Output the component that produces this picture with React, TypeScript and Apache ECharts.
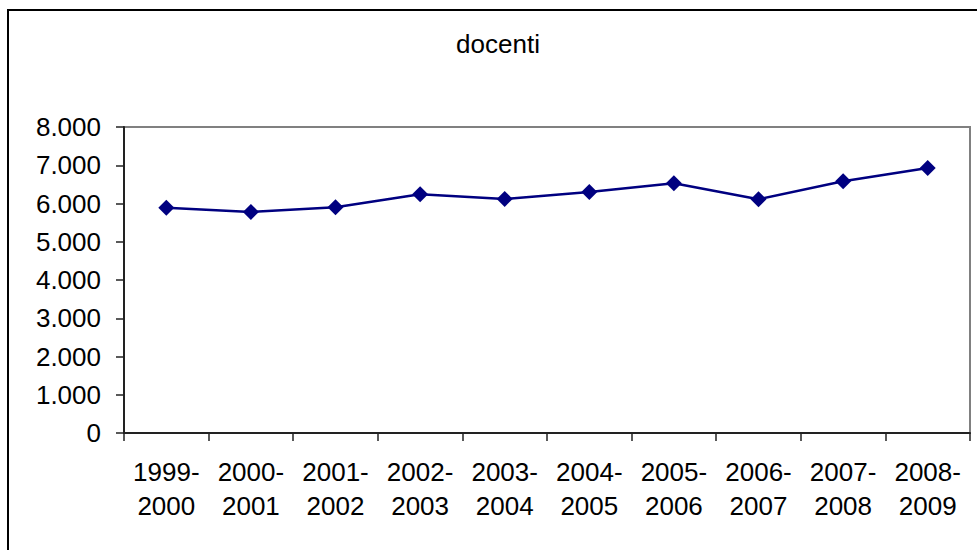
import React, { useEffect, useRef } from "react";
import * as echarts from "echarts";

const categories = [
  "1999-\n2000",
  "2000-\n2001",
  "2001-\n2002",
  "2002-\n2003",
  "2003-\n2004",
  "2004-\n2005",
  "2005-\n2006",
  "2006-\n2007",
  "2007-\n2008",
  "2008-\n2009",
];
const docenti = [5890, 5780, 5900, 6240, 6120, 6300, 6530, 6110, 6580, 6930];
const chartTitle = "docenti";

const FONT = "'Liberation Sans', Arial, sans-serif";

function fmt(v: number): string {
  const s = String(Math.round(v));
  return s.replace(/\B(?=(\d{3})+(?!\d))/g, ".");
}

export default function App() {
  const ref = useRef<HTMLDivElement>(null);
  useEffect(() => {
    if (!ref.current) return;
    const chart = echarts.init(ref.current, undefined, { renderer: "svg" });
    chart.setOption({
      animation: false,
      backgroundColor: "#ffffff",
      textStyle: { fontFamily: FONT },
      graphic: [
        {
          type: "rect",
          shape: { x: 8, y: 10, width: 1000, height: 600 },
          style: { fill: "none", stroke: "#000000", lineWidth: 2 },
          z: 100,
        },
        {
          type: "text",
          x: 498,
          y: 44,
          style: {
            text: chartTitle,
            fontFamily: FONT,
            fontSize: 26,
            fill: "#000000",
            textAlign: "center",
            textVerticalAlign: "middle",
          },
        },
      ],
      grid: {
        left: 124,
        right: 7,
        top: 127,
        bottom: 117,
        show: true,
        borderColor: "#808080",
        borderWidth: 2,
        backgroundColor: "#ffffff",
      },
      xAxis: {
        type: "category",
        data: categories,
        boundaryGap: true,
        axisLine: { show: true, lineStyle: { color: "#222222", width: 2 } },
        axisTick: { show: true, length: 8, inside: false, lineStyle: { color: "#222222", width: 1.5 } },
        axisLabel: {
          interval: 0,
          margin: 22,
          color: "#000000",
          fontFamily: FONT,
          fontSize: 26,
          lineHeight: 34,
        },
        splitLine: { show: false },
      },
      yAxis: {
        type: "value",
        min: 0,
        max: 8000,
        interval: 1000,
        axisLine: { show: true, lineStyle: { color: "#222222", width: 2 } },
        axisTick: { show: true, length: 8, inside: false, lineStyle: { color: "#222222", width: 1.5 } },
        axisLabel: {
          margin: 23,
          color: "#000000",
          fontFamily: FONT,
          fontSize: 26,
          formatter: (v: number) => fmt(v),
        },
        splitLine: { show: false },
      },
      series: [
        {
          type: "line",
          data: docenti,
          symbol: "diamond",
          symbolSize: 16,
          lineStyle: { color: "#000080", width: 2.5 },
          itemStyle: { color: "#000080" },
          z: 5,
        },
      ],
    });
    return () => chart.dispose();
  }, []);
  return (
    <div
      ref={ref}
      style={{ position: "absolute", left: 0, top: 0, width: 977, height: 550 }}
    />
  );
}
